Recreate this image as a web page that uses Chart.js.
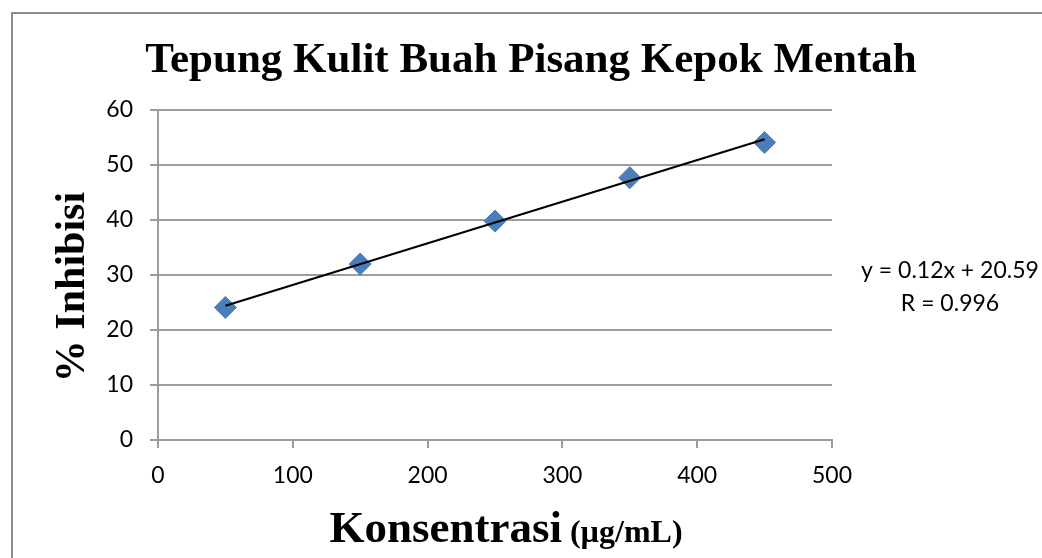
<!DOCTYPE html>
<html>
<head>
<meta charset="utf-8">
<script src="https://cdn.jsdelivr.net/npm/chart.js@4"></script>
<style>
  html, body { margin: 0; padding: 0; background: #ffffff; }
  #wrap { position: relative; width: 1042px; height: 558px; overflow: hidden; }
</style>
</head>
<body>
<div id="wrap"><canvas id="c" width="1042" height="558"></canvas></div>
<script>
// Concentration (µg/mL) and measured inhibition (%)
const konsentrasi = [50, 150, 250, 350, 450];
const inhibisi = [24.1, 32.0, 39.8, 47.7, 54.1];

// Axis ranges
const xRange = { min: 0, max: 500, step: 100 };
const yRange = { min: 0, max: 60, step: 10 };

// Texts
const judul = 'Tepung Kulit Buah Pisang Kepok Mentah';
const judulY = '% Inhibisi';
const judulX = ['Konsentrasi', ' (µg/mL)'];
const persamaan = ['y = 0.12x + 20.59', 'R = 0.996'];

// Least-squares trend line through the measured points
function trend(xs, ys) {
  const n = xs.length;
  const mx = xs.reduce((a, b) => a + b, 0) / n;
  const my = ys.reduce((a, b) => a + b, 0) / n;
  let sxy = 0, sxx = 0;
  for (let i = 0; i < n; i++) {
    sxy += (xs[i] - mx) * (ys[i] - my);
    sxx += (xs[i] - mx) * (xs[i] - mx);
  }
  const b = sxy / sxx;
  const a = my - b * mx;
  const x0 = Math.min(...xs), x1 = Math.max(...xs);
  return [{ x: x0, y: a + b * x0 }, { x: x1, y: a + b * x1 }];
}

const points = konsentrasi.map((x, i) => ({ x, y: inhibisi[i] }));
const GRID = '#9c9c9c';
const TICK_FONT = { family: 'Lato, "Open Sans", sans-serif', size: 23 };
const SERIF = '"Liberation Serif", "Times New Roman", serif';

const decor = {
  id: 'decor',
  beforeDraw(chart) {
    const ctx = chart.ctx;
    ctx.save();
    ctx.fillStyle = '#ffffff';
    ctx.fillRect(0, 0, chart.width, chart.height);
    ctx.strokeStyle = '#8c8c8c';
    ctx.lineWidth = 2;
    ctx.strokeRect(12, 13, 1200, 700);
    ctx.restore();
  },
  afterDraw(chart) {
    const ctx = chart.ctx;
    ctx.save();
    ctx.fillStyle = '#000000';
    ctx.textBaseline = 'alphabetic';

    // Chart title
    ctx.font = 'bold 43px ' + SERIF;
    ctx.textAlign = 'center';
    ctx.fillText(judul, 531, 72);

    // Y axis title
    ctx.save();
    ctx.translate(84, 287);
    ctx.rotate(-Math.PI / 2);
    ctx.font = 'bold 42px ' + SERIF;
    ctx.textAlign = 'center';
    ctx.fillText(judulY, 0, 0);
    ctx.restore();

    // X axis title (two sizes)
    const fBig = 'bold 45px ' + SERIF;
    const fSmall = 'bold 32px ' + SERIF;
    ctx.font = fBig;
    const w1 = ctx.measureText(judulX[0]).width;
    ctx.font = fSmall;
    const w2 = ctx.measureText(judulX[1]).width;
    const start = 506 - (w1 + w2) / 2;
    ctx.textAlign = 'left';
    ctx.font = fBig;
    ctx.fillText(judulX[0], start, 542);
    ctx.font = fSmall;
    ctx.fillText(judulX[1], start + w1, 542);

    // Trend line equation
    ctx.font = '23px Lato, "Open Sans", sans-serif';
    ctx.textAlign = 'center';
    ctx.fillText(persamaan[0], 950, 278);
    ctx.fillText(persamaan[1], 950, 311);
    ctx.restore();
  }
};

new Chart(document.getElementById('c'), {
  type: 'scatter',
  data: {
    datasets: [
      {
        label: 'Linear',
        data: trend(konsentrasi, inhibisi),
        showLine: true,
        borderColor: '#000000',
        borderWidth: 2,
        pointRadius: 0,
        pointHoverRadius: 0,
        order: 0
      },
      {
        label: '% Inhibisi',
        data: points,
        pointStyle: 'rectRot',
        pointRadius: 11,
        backgroundColor: '#4a7ebb',
        borderColor: '#4a7ebb',
        borderWidth: 1,
        order: 1
      }
    ]
  },
  options: {
    responsive: false,
    animation: false,
    devicePixelRatio: 1,
    layout: { padding: { left: 0, top: 110, right: 210, bottom: 0 } },
    plugins: {
      legend: { display: false },
      tooltip: { enabled: false },
      title: { display: false }
    },
    scales: {
      x: {
        type: 'linear',
        min: xRange.min,
        max: xRange.max,
        afterFit(scale) { scale.height = 118; },
        ticks: { stepSize: xRange.step, color: '#000000', font: TICK_FONT, padding: 14, maxRotation: 0 },
        grid: { drawOnChartArea: false, drawTicks: true, tickLength: 8, color: GRID, lineWidth: 2 },
        border: { display: true, color: GRID, width: 2 }
      },
      y: {
        type: 'linear',
        min: yRange.min,
        max: yRange.max,
        afterFit(scale) { scale.width = 158; },
        ticks: { stepSize: yRange.step, color: '#000000', font: TICK_FONT, padding: 17 },
        grid: { drawOnChartArea: true, drawTicks: true, tickLength: 8, color: GRID, lineWidth: 2 },
        border: { display: true, color: GRID, width: 2 }
      }
    }
  },
  plugins: [decor]
});
</script>
</body>
</html>
